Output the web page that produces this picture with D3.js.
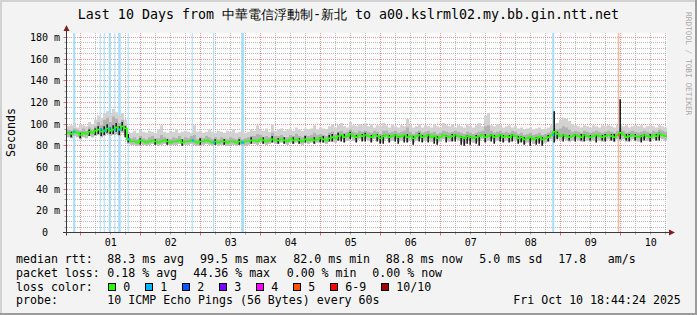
<!DOCTYPE html>
<html><head><meta charset="utf-8">
<script src="https://cdn.jsdelivr.net/npm/d3@7"></script>
<style>
body{margin:0;background:#f3f3f3}
svg{display:block}
text{font-family:"DejaVu Sans Mono",monospace;white-space:pre}
</style></head><body>
<svg id="c" width="697" height="315"></svg>
<script>
const titleText = "Last 10 Days from 中華電信浮動制-新北 to a00.kslrml02.my.bb.gin.ntt.net";
const startTime = new Date(2025, 8, 30, 18, 44, 24);
const endTime = new Date(2025, 9, 10, 18, 44, 24);
const stepMinutes = 72;

// median rtt (ms), one value per 72-minute step
const median = [
92,91,93,92,90,92,91,93,92,94,
95,93,94,96,94,95,97,95,98,96,
86,84,84,83,85,84,83,84,85,84,
83,84,85,84,83,84,84,85,83,84,
84,85,84,83,84,84,85,84,83,84,
83,84,84,83,84,84,83,84,83,84,
84,85,85,84,86,85,84,85,86,85,
85,86,85,84,86,85,86,85,84,86,
85,86,85,86,87,86,85,87,88,87,
89,90,88,89,91,89,88,90,89,90,
89,88,90,89,87,89,90,88,89,90,
88,89,90,88,89,87,89,90,88,89,
90,88,89,87,88,90,89,88,89,90,
89,88,87,89,88,87,88,89,90,88,
89,90,88,89,90,88,89,88,90,89,
87,88,86,87,88,86,87,88,86,87,
88,90,93,91,89,90,89,88,89,90,
89,88,90,89,88,89,90,89,88,89,
90,89,88,90,92,90,88,89,90,89,
88,89,90,89,88,90,89,91,90,89];

// smoke: highest ping per step (ms)
const smokeHi = [
98,99,101,97,100,99,98,102,100,104,
108,106,110,112,109,114,111,108,110,104,
93,92,94,92,95,93,92,94,93,92,
95,99,93,92,94,93,95,92,93,94,
93,92,99,93,94,92,93,95,93,92,
94,93,92,94,93,95,92,93,94,92,
93,95,94,99,95,94,96,93,100,94,
95,96,94,95,96,94,97,95,94,96,
95,96,99,95,97,96,95,98,100,97,
99,101,98,97,102,99,98,100,99,101,
98,100,97,99,98,101,99,97,100,98,
97,99,98,105,99,97,98,100,97,99,
98,97,100,98,97,101,99,98,100,97,
99,98,97,100,98,97,99,101,98,108,
110,99,98,100,99,97,98,99,97,98,
96,97,95,96,97,95,96,97,95,96,
97,99,100,101,104,106,105,103,100,99,
98,97,99,98,97,99,98,97,99,98,
99,98,97,99,100,98,99,97,98,99,
98,99,97,98,99,98,97,99,98,97];

// smoke: upper edge of the denser (mid grey) part (ms)
const smokeMid = [
95,94,96,95,94,96,94,97,95,98,
102,99,104,106,102,107,105,101,104,99,
88,87,88,86,89,87,86,88,89,87,
87,90,88,87,86,88,87,89,86,88,
87,89,90,86,88,87,89,88,86,88,
86,88,87,86,88,87,86,88,86,87,
88,89,89,91,90,88,89,88,92,89,
89,90,88,88,90,89,91,89,88,90,
89,90,92,90,91,90,89,92,93,91,
93,94,92,93,95,93,92,94,93,94,
93,92,94,93,91,94,94,92,93,94,
92,93,94,97,93,91,93,94,92,93,
94,92,93,91,92,94,93,92,93,94,
93,92,91,93,92,91,92,93,94,98,
99,94,92,93,94,92,93,92,94,93,
91,92,90,91,92,90,91,92,90,91,
92,94,96,95,96,98,97,95,93,94,
93,92,94,93,92,93,94,93,92,93,
94,93,92,94,96,94,92,93,94,93,
92,93,94,93,92,94,93,95,94,93];

// smoke: lowest ping per step (ms)
const smokeLo = [
88,87,89,88,86,88,87,89,88,89,
90,88,89,91,89,90,91,89,92,90,
82,81,81,80,82,81,80,81,82,81,
80,81,82,81,80,81,81,82,80,81,
81,82,81,80,81,81,82,81,80,81,
80,81,81,80,81,81,80,81,80,80,
81,82,82,81,83,82,81,82,83,82,
82,83,82,81,83,82,83,82,81,83,
82,83,82,83,84,83,82,84,84,83,
85,86,84,85,87,85,84,86,85,86,
85,84,86,85,83,85,86,84,85,86,
84,85,86,84,85,83,85,86,84,85,
86,84,85,83,84,86,85,84,85,86,
85,84,82,85,84,83,84,85,86,84,
85,86,84,85,86,84,85,84,86,85,
83,84,82,83,84,82,83,84,82,83,
84,86,85,87,85,86,85,84,85,86,
85,84,86,85,84,85,86,85,84,85,
86,85,84,86,85,86,84,85,86,85,
84,85,86,85,84,86,85,87,86,85];

// darkest smoke streaks: [step, low ms, high ms]
const darkStreaks = [
[1,88,93],[4,87,92],[7,89,95],[9,90,96],[10,91,98],[11,89,96],[12,90,98],[13,92,100],[14,91,97],[15,91,99],[16,93,101],[17,90,98],[18,94,102],[19,88,98],[20,83,91],
[24,81,87],[29,81,86],[33,81,86],[38,80,86],[44,81,87],[49,81,86],[52,81,86],[57,81,86],[61,82,88],[65,82,88],[68,83,89],[70,82,87],[72,82,88],[75,82,88],[77,82,87],[79,83,89],[82,82,88],[84,83,88],[85,83,89],[87,84,90],
[88,84,91],[90,85,92],[91,84,90],[92,83,91],[94,86,93],[96,83,90],[98,84,91],[99,84,92],[101,83,90],[103,84,91],[104,82,89],[105,82,90],[107,83,90],[109,84,91],[110,82,89],[112,83,90],[113,83,91],[115,81,89],[117,84,92],[118,83,90],[120,83,91],[122,82,89],[123,81,89],[126,83,90],[128,84,91],[129,84,91],[131,81,89],[132,80,88],[133,82,90],[134,81,89],[136,82,90],[137,80,89],[139,83,91],[141,84,91],[142,82,90],[144,84,91],[145,83,90],[147,83,90],[148,84,91],
[150,82,89],[151,83,89],[152,81,88],[154,80,88],[156,81,88],[157,82,88],[158,80,88],[160,84,90],[162,83,112],[163,86,93],[165,84,91],[167,85,90],[169,84,91],[171,85,91],[172,84,91],[174,85,90],[176,83,90],[178,85,90],[179,84,91],[181,85,91],[182,84,91],[184,86,123],[186,85,91],[187,84,91],[189,85,91],[191,83,90],[192,85,91],[194,84,91],[196,85,91],[197,85,92]];

// packet loss events
const lossStart = ["2025-09-30T21:14","2025-10-01T07:50","2025-10-01T09:26","2025-10-01T11:26","2025-10-01T13:40","2025-10-01T15:14","2025-10-01T19:02","2025-10-02T20:38","2025-10-03T05:12","2025-10-03T16:26","2025-10-08T20:50","2025-10-09T23:02"];
const lossMinutes = [48,24,24,48,24,60,24,24,24,64,48,36];
const lossCount = [1,1,1,1,1,1,1,1,1,1,1,5];

const yTickValues = [0,20,40,60,80,100,120,140,160,180];
const yTickLabels = ["0  ","20 m","40 m","60 m","80 m","100 m","120 m","140 m","160 m","180 m"];
const dayLabels = ["01","02","03","04","05","06","07","08","09","10"];

const lossLegendLabels = ["0","1","2","3","4","5","6-9","10/10"];
const lossLegendColors = ["#26ff00","#00b8ff","#0059ff","#7e00ff","#ff00ff","#ff5500","#ff0000","#a10000"];
const lossBgColors = {1:"#a6ddf8",5:"#fbb9a0"};

const legendRows = [
  [["median rtt:",16],["88.3 ms avg",107.3],["99.5 ms max",200],["82.0 ms min",293.3],["88.8 ms now",385.7],["5.0 ms sd",479.3],["17.8",558.3],["am/s",607.7]],
  [["packet loss:",16],["0.18 % avg",107.3],["44.36 % max",193.3],["0.00 % min",286.7],["0.00 % now",372.3]],
  [["loss color:",16]],
  [["probe:",16],["10 ICMP Echo Pings (56 Bytes) every 60s",107.3],["Fri Oct 10 18:44:24 2025",513.3]]
];
const legendBaselines = [263,276.7,290.5,304.2];

// ---------- drawing ----------
const W = 697, H = 315;
const L = 67, R = 667, T = 33, B = 232.5;
const svg = d3.select("#c");
const x = d3.scaleTime().domain([startTime, endTime]).range([L, R]);
const y = d3.scaleLinear().domain([0, (B - T) / (21.6667 / 20)]).range([B, T]);
const stepTime = i => d3.timeMinute.offset(startTime, i * stepMinutes);
const snap = v => Math.round(v - 0.5) + 0.5;

svg.append("rect").attr("width", W).attr("height", H).attr("fill", "#f3f3f3");
svg.append("rect").attr("x",0).attr("y",0).attr("width",W).attr("height",2).attr("fill","#d2d2d2");
svg.append("rect").attr("x",0).attr("y",0).attr("width",2).attr("height",H).attr("fill","#d2d2d2");
svg.append("rect").attr("x",W-2).attr("y",0).attr("width",2).attr("height",H).attr("fill","#9c9c9c");
svg.append("rect").attr("x",0).attr("y",H-2).attr("width",W).attr("height",2).attr("fill","#9c9c9c");

svg.append("rect").attr("x", L).attr("y", T).attr("width", R - L).attr("height", B - T).attr("fill", "#fff");

const gGrid = svg.append("g");
const minorCol = "rgba(143,143,143,0.6)", majorCol = "rgba(222,79,79,0.6)";
d3.range(5, 185, 5).forEach(v => {
  const yy = snap(y(v));
  if (yy < T) return;
  const major = v % 20 === 0;
  gGrid.append("line").attr("x1", L).attr("x2", R).attr("y1", yy).attr("y2", yy)
    .attr("stroke", major ? majorCol : minorCol).attr("stroke-dasharray", "1,1");
});
const minorTimes = d3.timeHour.every(6).range(startTime, endTime);
minorTimes.forEach(t => {
  const xx = snap(x(t));
  const major = t.getHours() === 0;
  gGrid.append("line").attr("x1", xx).attr("x2", xx).attr("y1", T).attr("y2", B)
    .attr("stroke", major ? majorCol : minorCol).attr("stroke-dasharray", "1,1");
});

const gLoss = svg.append("g");
lossStart.forEach((s, k) => {
  const t0 = new Date(s), t1 = d3.timeMinute.offset(t0, lossMinutes[k]);
  gLoss.append("rect").attr("x", x(t0)).attr("width", x(t1) - x(t0))
    .attr("y", T).attr("height", B - T).attr("fill", lossBgColors[lossCount[k]]);
});

const idx = d3.range(median.length + 1);
const val = (arr, i) => arr[Math.min(i, arr.length - 1)];
const band = (lo, hi) => d3.area().curve(d3.curveStepAfter)
  .x(i => x(stepTime(i))).y0(i => y(val(lo, i))).y1(i => y(val(hi, i)));
svg.append("path").attr("d", band(smokeLo, smokeHi)(idx)).attr("fill", "#d2d2d2");
svg.append("path").attr("d", band(median, smokeMid)(idx)).attr("fill", "#b2b2b2");
svg.append("path").attr("d", band(smokeLo, median)(idx)).attr("fill", "#bdbdbd");

// dark streaks
svg.append("g").selectAll("line").data(darkStreaks).join("line")
  .attr("x1", d => x(stepTime(d[0])) + 1.2).attr("x2", d => x(stepTime(d[0])) + 1.2)
  .attr("y1", d => y(d[1])).attr("y2", d => y(d[2]))
  .attr("stroke", "#1e1e1e").attr("stroke-width", 1.6);

const medLine = d3.line().curve(d3.curveStepAfter).x(i => x(stepTime(i))).y(i => y(val(median, i)));
svg.append("path").attr("d", medLine(idx)).attr("fill", "none")
  .attr("stroke", lossLegendColors[0]).attr("stroke-width", 1.7);

lossStart.forEach((s, k) => {
  const t0 = new Date(s), t1 = d3.timeMinute.offset(t0, lossMinutes[k]);
  const i = Math.floor((t0 - startTime) / 60000 / stepMinutes);
  const c = lossCount[k] >= 10 ? 7 : lossCount[k] >= 6 ? 6 : lossCount[k];
  svg.append("line").attr("x1", x(t0)).attr("x2", Math.max(x(t1), x(t0) + 2))
    .attr("y1", y(median[i])).attr("y2", y(median[i]))
    .attr("stroke", lossLegendColors[c]).attr("stroke-width", 2.5);
});

const axisCol = "#3a3a3a", arrowCol = "#802020";
svg.append("line").attr("x1", L - 0.5).attr("x2", L - 0.5).attr("y1", B + 3).attr("y2", 28).attr("stroke", axisCol);
svg.append("line").attr("x1", L - 4).attr("x2", R + 3).attr("y1", B).attr("y2", B).attr("stroke", axisCol);
svg.append("path").attr("d", `M${L-3.5},${T-2}L${L+2.5},${T-2}L${L-0.5},${T-8}Z`).attr("fill", arrowCol);
svg.append("path").attr("d", `M${R+2},${B-3}L${R+2},${B+3}L${R+8},${B}Z`).attr("fill", arrowCol);
minorTimes.forEach(t => {
  const xx = snap(x(t)), major = t.getHours() === 0;
  svg.append("line").attr("x1", xx).attr("x2", xx).attr("y1", B + 0.5).attr("y2", B + (major ? 3 : 2))
    .attr("stroke", major ? "rgba(222,79,79,0.8)" : "rgba(143,143,143,0.8)");
});
d3.range(5, 185, 5).forEach(v => {
  const yy = snap(y(v)), major = v % 20 === 0;
  svg.append("line").attr("x1", L - (major ? 3.5 : 2.5)).attr("x2", L - 1).attr("y1", yy).attr("y2", yy)
    .attr("stroke", major ? "rgba(222,79,79,0.8)" : "rgba(143,143,143,0.8)");
});

svg.append("g").selectAll("text").data(yTickValues).join("text")
  .attr("x", 60).attr("y", v => snap(y(v)) + 3.7).attr("text-anchor", "end")
  .attr("font-size", "10px").attr("fill", "#000").text((v, i) => yTickLabels[i]);
const noons = d3.timeDay.range(startTime, endTime).map(d => d3.timeHour.offset(d, 12)).filter(d => d < endTime);
svg.append("g").selectAll("text").data(noons).join("text")
  .attr("x", d => x(d) + 0.5).attr("y", 246).attr("text-anchor", "middle")
  .attr("font-size", "10px").attr("fill", "#000").text((d, i) => dayLabels[i]);

svg.append("text").attr("x", 348.5).attr("y", 19.3).attr("text-anchor", "middle")
  .attr("font-size", "13.3px").attr("fill", "#000").text(titleText);
svg.append("text").attr("transform", "translate(15,132.5) rotate(-90)").attr("text-anchor", "middle")
  .attr("font-size", "11.6px").attr("fill", "#000").text("Seconds");
svg.append("text").attr("transform", "translate(685.5,12) rotate(90)")
  .attr("font-size", "7.8px").attr("fill", "#a8a8a8").text("RRDTOOL / TOBI OETIKER");

legendRows.forEach((row, r) => {
  row.forEach(([s, xx]) => {
    svg.append("text").attr("x", xx).attr("y", legendBaselines[r]).attr("font-size", "11.6px").attr("fill", "#000").text(s);
  });
});
let lx = 108.3;
lossLegendLabels.forEach((lab, k) => {
  svg.append("rect").attr("x", Math.round(lx) + 0.5).attr("y", 283.5).attr("width", 7).attr("height", 7)
    .attr("fill", lossLegendColors[k]).attr("stroke", "#000");
  svg.append("text").attr("x", lx + 15).attr("y", legendBaselines[2]).attr("font-size", "11.6px").attr("fill", "#000").text(lab);
  lx += 15 + 7 * lab.length + 15;
});
</script>
</body></html>
